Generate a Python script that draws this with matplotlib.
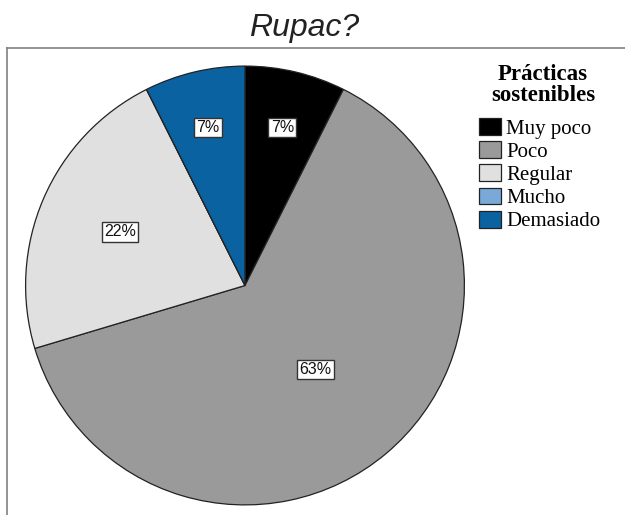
import numpy as np
import matplotlib.pyplot as plt

categories = ['Muy poco', 'Poco', 'Regular', 'Mucho', 'Demasiado']
counts = [2, 17, 6, 0, 2]
pct_labels = ['7%', '63%', '22%', '', '7%']
colors = ['#000000', '#9a9a9a', '#e0e0e0', '#79a9d9', '#0a62a0']
label_dist = [0.74, 0.50, 0.62, 0.0, 0.74]

fig = plt.figure(figsize=(6.25, 5.15), dpi=100)

# frame (only top and left edges are visible in the crop)
frame = fig.add_axes([7 / 625, -0.05, 1.0, 0.05 + 1 - 48 / 515])
frame.set_xticks([])
frame.set_yticks([])
for side in ['right', 'bottom']:
    frame.spines[side].set_visible(False)
for side in ['left', 'top']:
    frame.spines[side].set_color('#808080')
    frame.spines[side].set_linewidth(1.2)
frame.patch.set_alpha(0)

fig.text(304 / 625, 1 - 28 / 515, 'Rupac?', ha='center', va='center',
         fontsize=23, style='italic', family='Liberation Sans', color='#222222')

ax = fig.add_axes([24.5 / 625, 9 / 515, 441 / 625, 441 / 515])
wedges, _ = ax.pie(counts, colors=colors, startangle=90, counterclock=False,
                   wedgeprops=dict(edgecolor='#222222', linewidth=0.9))
ax.set_xlim(-1.005, 1.005)
ax.set_ylim(-1.005, 1.005)
ax.axis('off')

for w, lab, d in zip(wedges, pct_labels, label_dist):
    if not lab:
        continue
    mid = np.deg2rad((w.theta1 + w.theta2) / 2)
    ax.text(d * np.cos(mid), d * np.sin(mid), lab, ha='center', va='center',
            fontsize=11.5, family='Liberation Sans', color='#111111',
            bbox=dict(boxstyle='square,pad=0.15', facecolor='white',
                      edgecolor='#333333', linewidth=1))

# legend title drawn above the entries, centred as in the original
fig.text(543 / 625, 1 - 64 / 515, 'Prácticas\nsostenibles', ha='center', va='top',
         fontsize=16.5, weight='bold', family='Liberation Serif', linespacing=1.0)

leg = ax.legend(wedges, categories,
                loc='upper left', bbox_to_anchor=(479 / 625, 1 - 118 / 515),
                bbox_transform=fig.transFigure, frameon=False,
                prop=dict(family='Liberation Serif', size=15),
                handlelength=1.05, handleheight=0.85, handletextpad=0.25,
                labelspacing=0.13, borderpad=0, borderaxespad=0)

fig.savefig('out.png', dpi=100)
